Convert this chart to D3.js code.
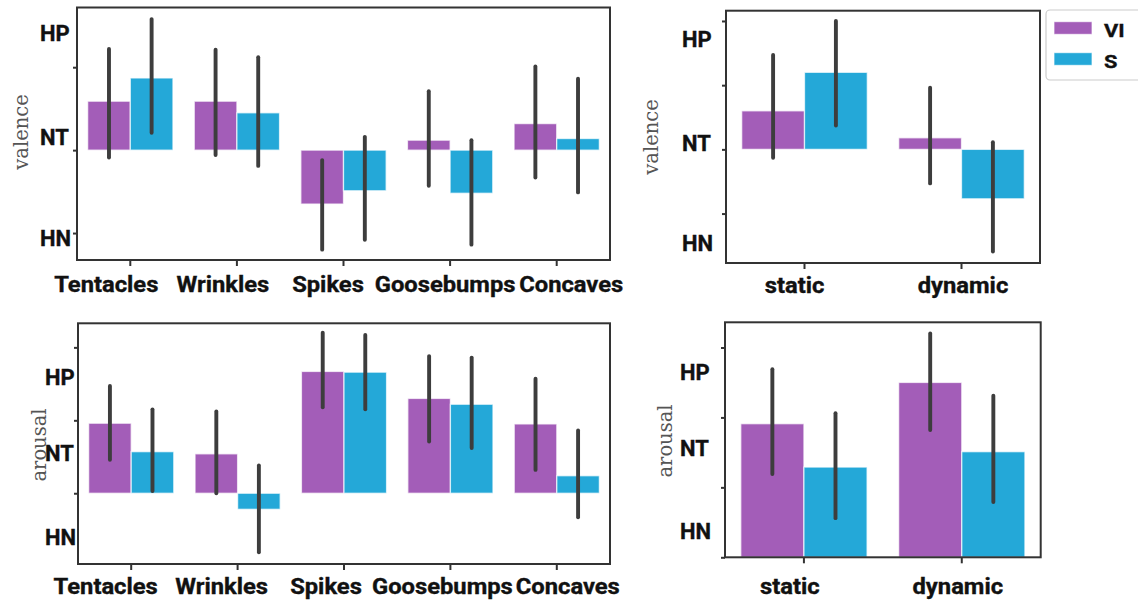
<!DOCTYPE html>
<html>
<head>
<meta charset="utf-8">
<script src="https://cdn.jsdelivr.net/npm/d3@7"></script>
<style>
  body { margin: 0; background: #fff; }
  svg { display: block; }
</style>
</head>
<body>
<div id="plot"></div>
<script>
// data (one unit = one y tick step)

  var fineCats = ["Tentacles", "Wrinkles", "Spikes", "Goosebumps", "Concaves"];
  var motionCats = ["static", "dynamic"];
  var groups = ["VI", "S"];
  var levelLabels = ["HP", "NT", "HN"];

  var valenceFineVI   = [0.59, 0.59, -0.65, 0.12, 0.32];
  var valenceFineVIlo = [-0.09, -0.06, -1.20, -0.43, -0.33];
  var valenceFineVIhi = [1.22, 1.21, -0.12, 0.71, 1.01];
  var valenceFineS    = [0.87, 0.45, -0.49, -0.52, 0.14];
  var valenceFineSlo  = [0.21, -0.19, -1.08, -1.14, -0.51];
  var valenceFineShi  = [1.58, 1.12, 0.16, 0.12, 0.86];

  var valenceMotionVI   = [0.60, 0.18];
  var valenceMotionVIlo = [-0.13, -0.53];
  var valenceMotionVIhi = [1.47, 0.96];
  var valenceMotionS    = [1.20, -0.77];
  var valenceMotionSlo  = [0.37, -1.59];
  var valenceMotionShi  = [2.00, 0.11];

  var arousalFineVI   = [0.96, 0.54, 1.67, 1.30, 0.95];
  var arousalFineVIlo = [0.46, 0.00, 1.18, 0.71, 0.32];
  var arousalFineVIhi = [1.47, 1.12, 2.20, 1.88, 1.57];
  var arousalFineS    = [0.57, -0.22, 1.66, 1.22, 0.24];
  var arousalFineSlo  = [0.03, -0.81, 1.15, 0.62, -0.33];
  var arousalFineShi  = [1.15, 0.38, 2.17, 1.86, 0.86];

  var arousalMotionVI   = [1.91, 2.50];
  var arousalMotionVIlo = [1.19, 1.82];
  var arousalMotionVIhi = [2.69, 3.20];
  var arousalMotionS    = [1.29, 1.51];
  var arousalMotionSlo  = [0.56, 0.79];
  var arousalMotionShi  = [2.06, 2.31];

  var colors = {VI: "#a35db8", S: "#24a8d8"};

  var w = 1138;
  var h = 601;

  var svg = d3.select("div#plot")
    .append("svg")
      .attr("width", w)
      .attr("height", h);

  svg.append("rect")
      .attr("width", w)
      .attr("height", h)
      .attr("fill", "white");

// one panel

  function panel(p) {
      var g = svg.append("g");

      var xScale = d3.scaleBand()
          .domain(p.cats)
          .range([p.x0, p.x1]);

      var inner = d3.scaleBand()
          .domain(groups)
          .range([0, xScale.bandwidth() * 0.8]);

      var yScale = d3.scaleLinear()
          .domain(p.domain)
          .range([p.y1, p.y0]);

      var rows = [];
      p.cats.forEach(function(c, i) {
          rows.push({cat: c, grp: "VI", v: p.vi[0][i], lo: p.vi[1][i], hi: p.vi[2][i]});
          rows.push({cat: c, grp: "S", v: p.s[0][i], lo: p.s[1][i], hi: p.s[2][i]});
      });

      var bx = d => xScale(d.cat) + xScale.bandwidth() * 0.1 + inner(d.grp);

      g.selectAll("rect.bar")
          .data(rows)
        .enter().append("rect")
          .attr("class", "bar")
          .attr("x", bx)
          .attr("y", d => yScale(Math.max(0, d.v)))
          .attr("width", inner.bandwidth())
          .attr("height", d => Math.abs(yScale(d.v) - yScale(0)))
          .attr("fill", d => colors[d.grp])
          .attr("stroke", "white")
          .attr("stroke-opacity", 0.7)
          .attr("stroke-width", 1.3);

      g.selectAll("line.err")
          .data(rows)
        .enter().append("line")
          .attr("class", "err")
          .attr("x1", d => bx(d) + inner.bandwidth() / 2)
          .attr("x2", d => bx(d) + inner.bandwidth() / 2)
          .attr("y1", d => yScale(d.lo))
          .attr("y2", d => yScale(d.hi))
          .attr("stroke", "#3d3d3d")
          .attr("stroke-width", 3.9)
          .attr("stroke-linecap", "round");

      // frame
      g.append("rect")
          .attr("x", p.x0)
          .attr("y", p.y0)
          .attr("width", p.x1 - p.x0)
          .attr("height", p.y1 - p.y0)
          .attr("fill", "none")
          .attr("stroke", "#333")
          .attr("stroke-width", 2);

      var xAxis = d3.axisBottom(xScale)
          .tickSize(6)
          .tickSizeOuter(0)
          .tickPadding(p.pad);

      var ax = g.append("g")
          .attr("transform", `translate(0, ${p.y1})`)
          .call(xAxis);
      ax.select(".domain").remove();
      ax.selectAll(".tick line").attr("stroke", "#333").attr("stroke-width", 2);
      ax.selectAll(".tick text")
          .attr("transform", (d, i) => `translate(${p.labelDx[i]}, 0) scale(1.08, 1)`)
          .attr("fill", "#111")
          .attr("stroke", "#111")
          .attr("stroke-width", 0.35)
          .attr("font-family", "Roboto")
          .attr("font-weight", "bold")
          .attr("font-size", "22px");

      var yAxis = d3.axisLeft(yScale)
          .tickValues(p.ticks)
          .tickSize(4)
          .tickFormat("");

      var ay = g.append("g")
          .attr("transform", `translate(${p.x0}, 0)`)
          .call(yAxis);
      ay.select(".domain").remove();
      ay.selectAll(".tick line").attr("stroke", "#333").attr("stroke-width", 2);

      // HP / NT / HN labels
      g.selectAll("text.lvl")
          .data(levelLabels)
        .enter().append("text")
          .attr("class", "lvl")
          .attr("x", p.lvlX)
          .attr("y", (d, i) => p.lvlY[i])
          .attr("dy", "0.36em")
          .attr("fill", "#111")
          .attr("stroke", "#111")
          .attr("stroke-width", 0.35)
          .attr("font-family", "Roboto")
          .attr("font-weight", "bold")
          .attr("font-size", "22px")
          .text(d => d);

      g.append("text")
          .attr("transform", `translate(${p.titleX}, ${p.titleY}) rotate(-90)`)
          .attr("text-anchor", "middle")
          .attr("fill", "#555")
          .attr("font-family", "DejaVu Serif")
          .attr("font-size", "19.5px")
          .text(p.title);
  }

  panel({cats: fineCats, x0: 77, x1: 610, y0: 7.5, y1: 260,
      domain: [-1.325, 1.72], ticks: [-1, 0, 1], pad: 10,
      labelDx: [-24, -14, -15.5, -5, 14.5],
      vi: [valenceFineVI, valenceFineVIlo, valenceFineVIhi],
      s: [valenceFineS, valenceFineSlo, valenceFineShi],
      lvlX: 40, lvlY: [33, 137, 238],
      title: "valence", titleX: 28, titleY: 132});

  panel({cats: motionCats, x0: 726, x1: 1040, y0: 10.7, y1: 263,
      domain: [-1.77, 2.16], ticks: [-1, 0, 1, 2], pad: 8,
      labelDx: [-10, 1.5],
      vi: [valenceMotionVI, valenceMotionVIlo, valenceMotionVIhi],
      s: [valenceMotionS, valenceMotionSlo, valenceMotionShi],
      lvlX: 682, lvlY: [39, 143, 243],
      title: "valence", titleX: 658, titleY: 137});

  panel({cats: fineCats, x0: 78, x1: 610, y0: 323.3, y1: 564,
      domain: [-0.97, 2.33], ticks: [0, 1, 2], pad: 8,
      labelDx: [-25.5, -16, -18, -8, 11],
      vi: [arousalFineVI, arousalFineVIlo, arousalFineVIhi],
      s: [arousalFineS, arousalFineSlo, arousalFineShi],
      lvlX: 45, lvlY: [377, 453, 537],
      title: "arousal", titleX: 46, titleY: 445});

  panel({cats: motionCats, x0: 725, x1: 1040.7, y0: 322.3, y1: 557.3,
      domain: [0, 3.36], ticks: [0, 1, 2, 3], pad: 15,
      labelDx: [-14, -4],
      vi: [arousalMotionVI, arousalMotionVIlo, arousalMotionVIhi],
      s: [arousalMotionS, arousalMotionSlo, arousalMotionShi],
      lvlX: 680, lvlY: [372, 448, 531],
      title: "arousal", titleX: 672, titleY: 441});

// legend

  var legend = svg.append("g");

  legend.append("rect")
      .attr("x", 1046)
      .attr("y", 10)
      .attr("width", 110)
      .attr("height", 70)
      .attr("rx", 4)
      .attr("fill", "white")
      .attr("stroke", "#ccc")
      .attr("stroke-width", 1.2);

  var items = legend.selectAll("g.item")
      .data(groups)
    .enter().append("g")
      .attr("class", "item")
      .attr("transform", (d, i) => `translate(1054, ${21.7 + i * 31})`);

  items.append("rect")
      .attr("width", 38)
      .attr("height", 12.6)
      .attr("fill", d => colors[d])
      .attr("stroke", "white")
      .attr("stroke-opacity", 0.7);

  items.append("text")
      .attr("transform", "translate(50, 8) scale(1.15, 1)")
      .attr("dy", "0.36em")
      .attr("fill", "#111")
      .attr("stroke", "#111")
      .attr("stroke-width", 0.35)
      .attr("font-family", "Roboto")
      .attr("font-weight", "bold")
      .attr("font-size", "19px")
      .text(d => d);
</script>
</body>
</html>
